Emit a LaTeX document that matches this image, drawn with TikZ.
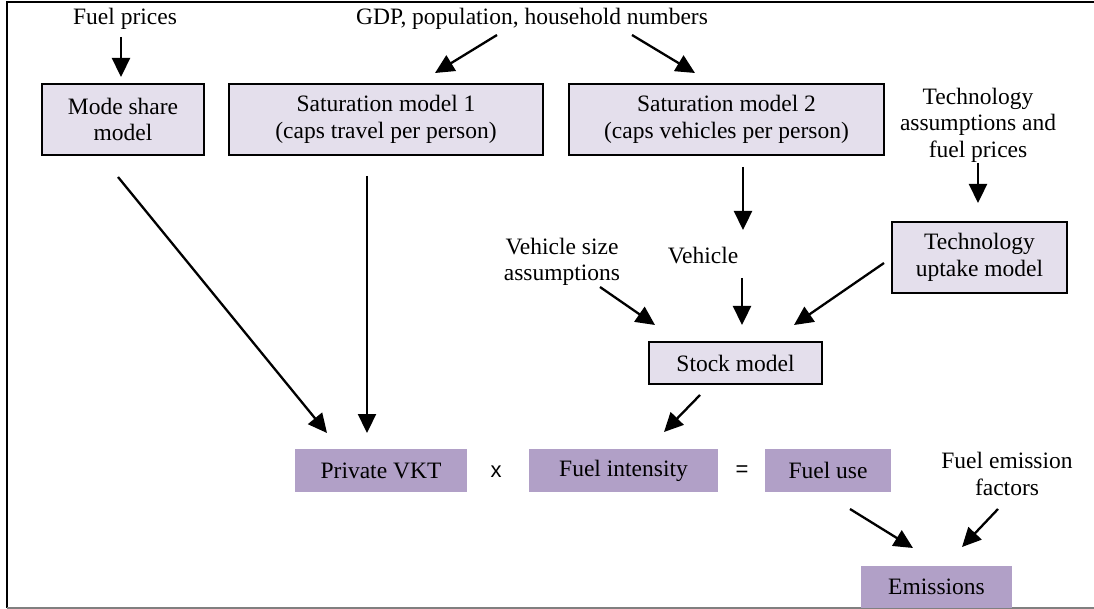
\documentclass[tikz,border=0pt]{standalone}
\usepackage{fontspec}
\setmainfont{Liberation Serif}
\newfontfamily\signfont{Liberation Sans}
\usetikzlibrary{arrows.meta}

\definecolor{lightlilac}{HTML}{E4DFEC}
\definecolor{darklilac}{HTML}{B1A0C7}

\begin{document}
\begin{tikzpicture}[x=1pt,y=-1pt,
  every node/.style={align=center,font=\fontsize{23.5}{26.5}\selectfont},
  lightbox/.style={draw,line width=1.6pt,fill=lightlilac,inner sep=0pt},
  darkbox/.style={fill=darklilac,inner sep=0pt,minimum height=43pt},
  arr/.style={-{Triangle[length=19pt,width=18pt]},line width=2.3pt},
  sign/.style={font=\fontsize{22}{26}\signfont}]
\useasboundingbox (0,0) rectangle (1094,609);
% frame
\draw[line width=1.6pt] (1100,2) -- (7,2) -- (7,608);
\draw[line width=1.2pt,gray] (7,608) -- (1100,608);
% inputs
\node (fuelp) at (125,19) {Fuel prices};
\node (gdp) at (532,19) {GDP, population, household numbers};
\node (techa) at (978,125) {Technology\\assumptions and\\fuel prices};
\node (vsize) at (562,262) {Vehicle size\\assumptions};
\node (veh) at (703,256) {Vehicle};
\node (factors) at (1007,474) {Fuel emission\\factors};
% models
\node (mode) at (123,119.5) [lightbox, minimum width=162pt, minimum height=71pt] {Mode share\\model};
\node (sat1) at (386,119.5) [lightbox, minimum width=314pt, minimum height=71pt] {Saturation model 1\\(caps travel per person)};
\node (sat2) at (726.5,119.5) [lightbox, minimum width=315pt, minimum height=71pt] {Saturation model 2\\(caps vehicles per person)};
\node (tech) at (979.5,257.5) [lightbox, minimum width=175pt, minimum height=71pt] {Technology\\uptake model};
\node (stock) at (735.5,363) [lightbox, minimum width=173pt, minimum height=42pt] {Stock model};
% results
\node (vkt) at (381,470.5) [darkbox, minimum width=172pt] {Private VKT};
\node (times) at (496,472) [sign] {x};
\node (fint) at (623.5,470.5) [darkbox, minimum width=189pt] {Fuel intensity};
\node (eq) at (742,471) [sign] {=};
\node (fuse) at (828,470.5) [darkbox, minimum width=126pt] {Fuel use};
\node (emis) at (936.5,587) [darkbox, minimum width=151pt, minimum height=42pt] {Emissions};
% arrows
\draw[arr] ([shift={(-4,18)}]fuelp.center) -- ([shift={(-2,-42.5)}]mode.center);
\draw[arr] ([shift={(-35,16)}]gdp.center) -- ([shift={(49,-46.5)}]sat1.center);
\draw[arr] ([shift={(100,16)}]gdp.center) -- ([shift={(-31.5,-46.5)}]sat2.center);
\draw[arr] ([shift={(-5,57.5)}]mode.center) -- ([shift={(-54,-37.5)}]vkt.center);
\draw[arr] ([shift={(-19,56.5)}]sat1.center) -- ([shift={(-14,-37.5)}]vkt.center);
\draw[arr] ([shift={(16.5,47.5)}]sat2.center) -- ([shift={(40,-26)}]veh.center);
\draw[arr] ([shift={(0,38)}]techa.center) -- ([shift={(-1.5,-54.5)}]tech.center);
\draw[arr] ([shift={(38,25)}]vsize.center) -- ([shift={(-80.5,-38)}]stock.center);
\draw[arr] ([shift={(39,22)}]veh.center) -- ([shift={(6.5,-38)}]stock.center);
\draw[arr] ([shift={(-95.5,5.5)}]tech.center) -- ([shift={(58.5,-38)}]stock.center);
\draw[arr] ([shift={(-35.5,32)}]stock.center) -- ([shift={(40.5,-38.5)}]fint.center);
\draw[arr] ([shift={(22,38.5)}]fuse.center) -- ([shift={(-23.5,-39)}]emis.center);
\draw[arr] ([shift={(-9,35)}]factors.center) -- ([shift={(25.5,-40)}]emis.center);
\end{tikzpicture}
\end{document}
